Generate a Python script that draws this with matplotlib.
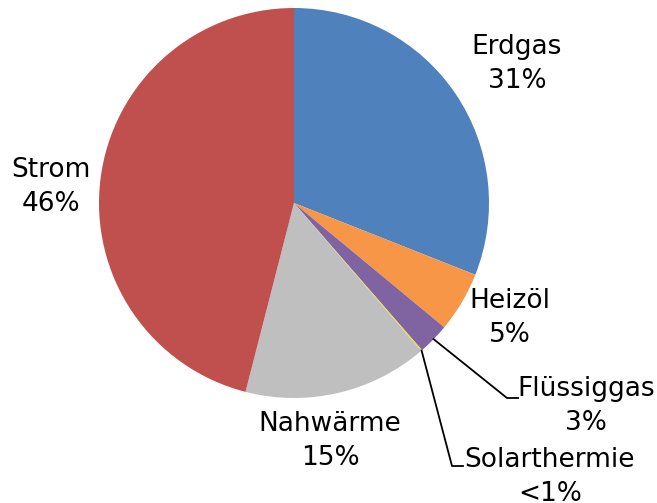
import numpy as np
import matplotlib.pyplot as plt

# Anteile der Energieträger (in %)
labels = ["Erdgas", "Heizöl", "Flüssiggas", "Solarthermie", "Nahwärme", "Strom"]
shares = [31.0, 5.0, 2.6, 0.1, 15.3, 46.0]
share_text = ["31%", "5%", "3%", "<1%", "15%", "46%"]
colors = ["#4F81BD", "#F79646", "#8064A2", "#E8DC2C", "#BFBFBF", "#C0504D"]

W, H = 657, 503


def py(y):
    # pixel row (from top) -> data y
    return H - y


fig = plt.figure(figsize=(6.57, 5.03), dpi=100)
ax = fig.add_axes([0, 0, 1, 1])

cx, cy, r = 294, 203, 195
wedges, _ = ax.pie(shares, colors=colors, startangle=90, counterclock=False,
                   center=(cx, py(cy)), radius=r)
ax.set_xlim(0, W)
ax.set_ylim(0, H)
ax.set_aspect("equal")
ax.axis("off")

# label positions (centre of the two-line block, in pixels)
label_pos = {
    "Erdgas": (517, 64),
    "Heizöl": (510, 318),
    "Flüssiggas": (586, 406),
    "Solarthermie": (550, 477),
    "Nahwärme": (330, 441),
    "Strom": (51, 187),
}

for name, txt in zip(labels, share_text):
    x, y = label_pos[name]
    ax.text(x, py(y), f"{name}\n{txt}", ha="center", va="center",
            multialignment="center", fontsize=19, family="DejaVu Sans",
            linespacing=1.4, color="black")

# leader lines for the small slices
leader_ends = {
    "Flüssiggas": [(507, 398), (518, 398)],
    "Solarthermie": [(452, 466), (463, 466)],
}
for i, name in enumerate(labels):
    if name not in leader_ends:
        continue
    w = wedges[i]
    ang = np.deg2rad((w.theta1 + w.theta2) / 2)
    x0 = cx + r * np.cos(ang)
    y0 = py(cy) + r * np.sin(ang)
    xs = [x0] + [p[0] for p in leader_ends[name]]
    ys = [y0] + [py(p[1]) for p in leader_ends[name]]
    ax.plot(xs, ys, color="black", lw=1.3)

fig.savefig("out.png", dpi=100)
